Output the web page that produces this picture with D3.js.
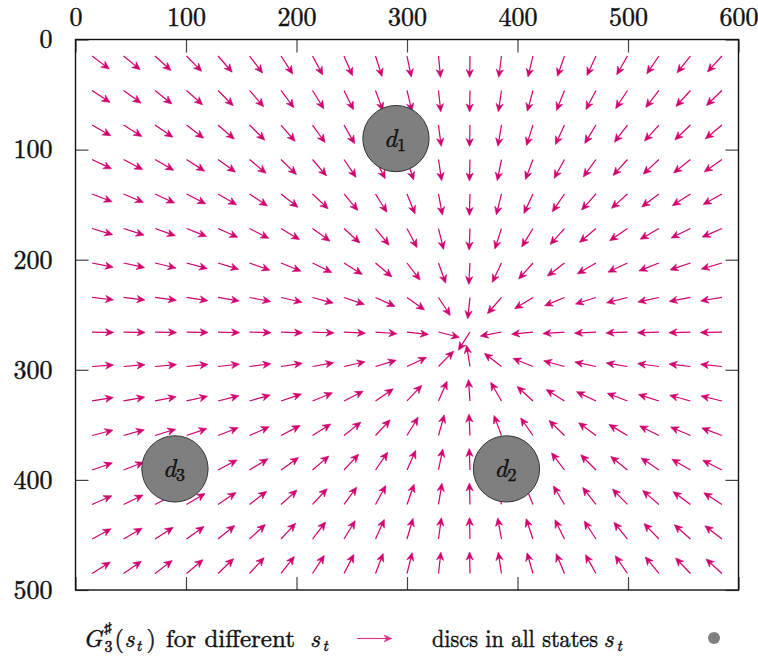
<!DOCTYPE html>
<html>
<head>
<meta charset="utf-8">
<script src="https://cdn.jsdelivr.net/npm/d3@7"></script>
<style>
  html, body { margin: 0; padding: 0; background: #fff; }
  svg { display: block; }
</style>
</head>
<body>
<svg id="chart" width="758" height="659"></svg>
<script>
// ---- data ----
const xTicks = [0, 100, 200, 300, 400, 500, 600];
const yTicks = [0, 100, 200, 300, 400, 500];
// sample states on the grid where G3#(s_t) is drawn
const gridX = [15, 43.5, 72, 100.5, 129, 157.5, 186, 214.5, 243, 271.5, 300,
               328.5, 357, 385.5, 414, 442.5, 471, 499.5, 528, 556.5, 585];
const gridY = [15, 46.3, 77.7, 109, 140.3, 171.7, 203, 234.3, 265.7, 297,
               328.3, 359.7, 391, 422.3, 453.7, 485];
// point every arrow of the field points to
const sinkX = 353;
const sinkY = 272;
// discs
const discLabels = ["1", "2", "3"];
const discX = [290, 390, 90];
const discY = [90, 390, 390];

// ---- styles / sizes ----
const ARROW_LEN = 19.5;   // data units
const DISC_R = 30;        // data units
const ARROW_COLOR = "#d2006f";
const DISC_FILL = "#7f7f7f";
const FONT = '"Latin Modern Roman", "Liberation Serif", serif';
const INK = "#111";

const svg = d3.select("#chart");
const x = d3.scaleLinear().domain([0, 600]).range([75.5, 738.5]);
const y = d3.scaleLinear().domain([0, 500]).range([39.5, 590]);

function styleText(sel, size) {
  return sel.style("font-family", FONT).style("font-size", size + "px")
    .attr("fill", INK).attr("stroke", INK).attr("stroke-width", 0.45);
}

// ---- arrows ----
const field = [];
gridY.forEach(gy => gridX.forEach(gx => {
  const dx = sinkX - gx, dy = sinkY - gy;
  const d = Math.hypot(dx, dy) || 1;
  field.push({x0: gx, y0: gy, x1: gx + ARROW_LEN * dx / d, y1: gy + ARROW_LEN * dy / d});
}));

const gArrows = svg.append("g");
function arrowPath(px0, py0, px1, py1, h, w) {
  const L = Math.hypot(px1 - px0, py1 - py0);
  const ux = (px1 - px0) / L, uy = (py1 - py0) / L;
  const nx = -uy, ny = ux;
  const bx = px1 - h * ux, by = py1 - h * uy;
  const mx = px1 - 0.7 * h * ux, my = py1 - 0.7 * h * uy;
  return {
    line: `M${px0},${py0}L${mx},${my}`,
    head: `M${px1},${py1}L${bx + w * nx},${by + w * ny}L${mx},${my}L${bx - w * nx},${by - w * ny}Z`
  };
}
field.forEach(a => {
  const p = arrowPath(x(a.x0), y(a.y0), x(a.x1), y(a.y1), 8, 3.6);
  gArrows.append("path").attr("d", p.line).attr("stroke", ARROW_COLOR)
    .attr("stroke-width", 1.2).attr("fill", "none");
  gArrows.append("path").attr("d", p.head).attr("fill", ARROW_COLOR)
    .attr("stroke", ARROW_COLOR).attr("stroke-width", 0.6);
});

// ---- discs ----
const gDiscs = svg.append("g");
discLabels.forEach((lab, i) => {
  gDiscs.append("circle")
    .attr("cx", x(discX[i])).attr("cy", y(discY[i]))
    .attr("r", x(DISC_R) - x(0))
    .attr("fill", DISC_FILL).attr("stroke", "#333").attr("stroke-width", 1);
  const t = styleText(gDiscs.append("text"), 26)
    .attr("x", x(discX[i]) - 1).attr("y", y(discY[i]) + 8)
    .attr("text-anchor", "middle");
  t.append("tspan").style("font-style", "italic").text("d");
  t.append("tspan").style("font-size", "18px").attr("dy", 4).text(lab);
});

// ---- frame + axes ----
const TICK = 13;
const axTop = svg.append("g").attr("transform", `translate(0,${y(0)})`)
  .call(d3.axisTop(x).tickValues(xTicks).tickSize(-TICK).tickPadding(14));
const axBottom = svg.append("g").attr("transform", `translate(0,${y(500)})`)
  .call(d3.axisBottom(x).tickValues(xTicks).tickSize(-TICK).tickFormat(""));
const axLeft = svg.append("g").attr("transform", `translate(${x(0)},0)`)
  .call(d3.axisLeft(y).tickValues(yTicks).tickSize(-TICK).tickPadding(23));
const axRight = svg.append("g").attr("transform", `translate(${x(600)},0)`)
  .call(d3.axisRight(y).tickValues(yTicks).tickSize(-TICK).tickFormat(""));
[axTop, axBottom, axLeft, axRight].forEach(g => {
  g.select(".domain").remove();
  g.selectAll(".tick line").attr("stroke", "#444").attr("stroke-width", 1.2);
  styleText(g.selectAll(".tick text"), 26);
});
svg.append("rect")
  .attr("x", x(0)).attr("y", y(0))
  .attr("width", x(600) - x(0)).attr("height", y(500) - y(0))
  .attr("fill", "none").attr("stroke", "#111").attr("stroke-width", 1.4);

// ---- legend ----
const legY = 647;
const gLeg = svg.append("g");
function piece(str, px, py, size, italic, len) {
  const t = styleText(gLeg.append("text"), size).attr("x", px).attr("y", py).text(str);
  if (italic) t.style("font-style", "italic");
  if (len) t.attr("textLength", len).attr("lengthAdjust", "spacingAndGlyphs");
  return t;
}
piece("G", 83, legY, 25, true);
piece("\u266F", 104, legY - 14, 15, false);
piece("3", 104.5, legY + 5, 16, false);
piece("(", 114.5, legY, 24, false);
piece("s", 124.5, legY, 24, true);
piece("t", 136, legY + 4, 16, true);
piece(")", 146.5, legY, 24, false);
piece("for different", 166, legY, 24, false, 129);
piece("s", 310, legY, 24, true);
piece("t", 322.5, legY + 4, 16, true);

const la = arrowPath(357, legY - 8.5, 392, legY - 8.5, 8, 3.4);
gLeg.append("path").attr("d", la.line).attr("stroke", ARROW_COLOR).attr("stroke-width", 1.1).attr("fill", "none").attr("opacity", 0.8);
gLeg.append("path").attr("d", la.head).attr("fill", ARROW_COLOR).attr("stroke", ARROW_COLOR).attr("stroke-width", 0.5).attr("opacity", 0.8);

piece("discs in all states", 432, legY, 24, false, 166);
piece("s", 603.5, legY, 24, true);
piece("t", 616.5, legY + 4, 16, true);

gLeg.append("circle").attr("cx", 714).attr("cy", legY - 9).attr("r", 6).attr("fill", DISC_FILL);
</script>
</body>
</html>
